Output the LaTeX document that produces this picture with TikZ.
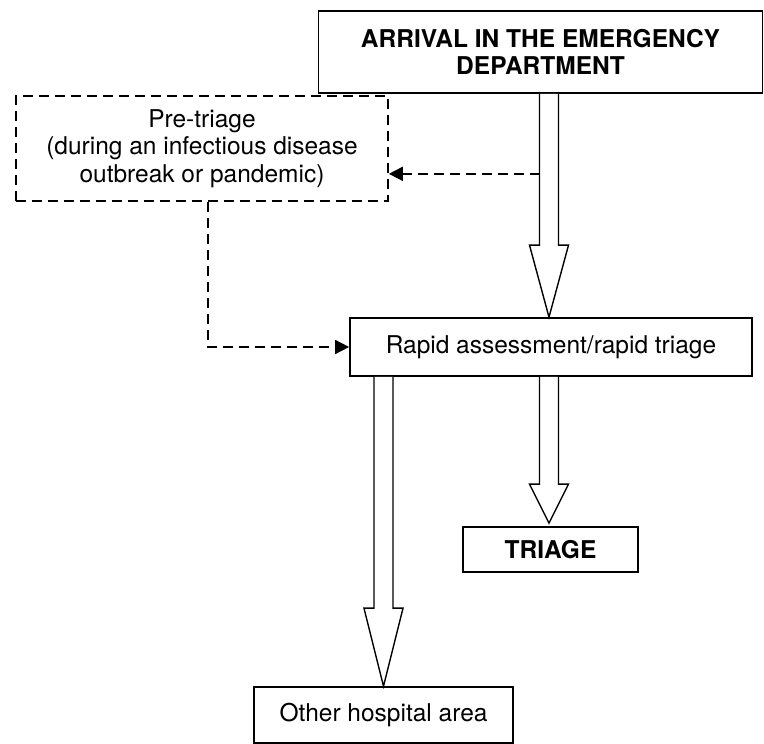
\documentclass[tikz,border=0pt]{standalone}
\usepackage{fontspec}
\setmainfont{TeX Gyre Heros}
\usetikzlibrary{arrows.meta,calc}
\newcommand\blockarrow[4]{% #1 start anchor (y), #2 tip, #3 head length
  \draw[blk] ($(#2 |- #1)+(-9.5,0)$) -- ($(#2)+(-9.5,-#3)$) -- ($(#2)+(-19.5,-#3)$) -- (#2)
    -- ($(#2)+(19.5,-#3)$) -- ($(#2)+(9.5,-#3)$) -- ($(#2 |- #1)+(9.5,0)$)#4;}
\begin{document}
\begin{tikzpicture}[x=1pt,y=-1pt,
  box/.style={draw,line width=1.7pt,fill=white,inner sep=0pt,align=center,
    font=\fontsize{24.5}{27.5}\selectfont},
  dbox/.style={box,dash pattern=on 10pt off 6pt,line width=1.7pt},
  darrow/.style={line width=1.7pt,dash pattern=on 10pt off 6pt,
    -{Triangle[length=14pt,width=14pt]}},
  blk/.style={draw,line width=1.4pt,fill=white,line join=miter}]
\useasboundingbox (0,0) rectangle (764,744);

\node[box,minimum width=444pt,minimum height=82pt] (arr) at (540.5,52)
  {\textbf{ARRIVAL IN THE EMERGENCY}\\\textbf{DEPARTMENT}};
\node[dbox,minimum width=372pt,minimum height=105pt] (pre) at (202,148.5)
  {Pre-triage\\(during an infectious disease\\outbreak or pandemic)};
\node[box,minimum width=402pt,minimum height=58pt] (rapid) at (551,347)
  {Rapid assessment/rapid triage};
\node[box,minimum width=175pt,minimum height=45pt] (triage) at (550.5,549.5)
  {\textbf{TRIAGE}};
\node[box,minimum width=259pt,minimum height=56pt] (other) at (383.5,715)
  {Other hospital area};

% block arrows
\coordinate (t1) at ($(rapid.north)+(-2,0)$);
\blockarrow{arr.south}{t1}{72}{}
\coordinate (t2) at ($(triage.north)+(-1.5,-3)$);
\blockarrow{rapid.south}{t2}{39}{}
\coordinate (t3) at (other.north);
\blockarrow{rapid.south}{t3}{78}{}

% dashed connectors
\coordinate (d1) at ($(pre.south east)+(0,-28)$);
\draw[darrow] ($(d1 -| t1)+(-9.5,0)$) -- (d1);
\coordinate (d2) at ($(pre.south)+(6,0)$);
\draw[darrow] (d2) -- (d2 |- rapid.west) -- (rapid.west);
\end{tikzpicture}
\end{document}
